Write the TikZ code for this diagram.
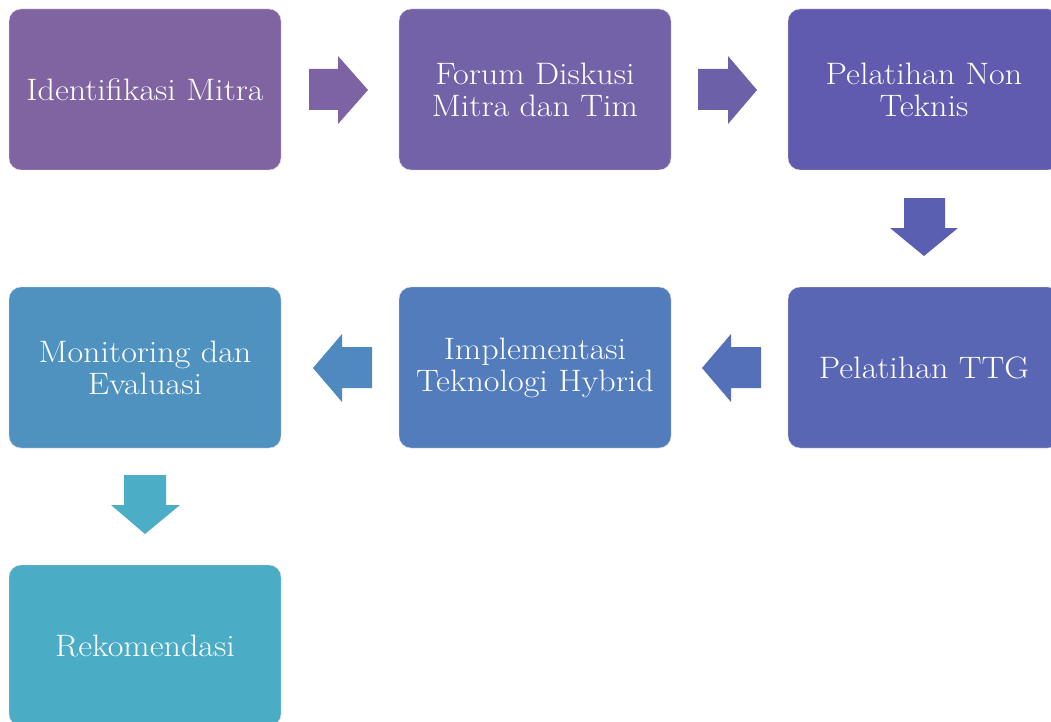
\documentclass[tikz,border=0pt]{standalone}
\usepackage{fontspec}
\setmainfont{Latin Modern Roman}[FakeStretch=1.1]
\usetikzlibrary{calc}
\definecolor{cA}{HTML}{8064A2}
\definecolor{cB}{HTML}{7462A8}
\definecolor{cC}{HTML}{605BAE}
\definecolor{cD}{HTML}{5966B3}
\definecolor{cE}{HTML}{527CBC}
\definecolor{cF}{HTML}{4F92C0}
\definecolor{cG}{HTML}{4BACC6}
\definecolor{aA}{HTML}{7D63A4}
\definecolor{aB}{HTML}{6C60A9}
\definecolor{aC}{HTML}{5A5FB1}
\definecolor{aD}{HTML}{5470B8}
\definecolor{aE}{HTML}{5088C0}
\definecolor{aF}{HTML}{4BADC6}
\tikzset{
  stepbox/.style={rectangle, rounded corners=12pt, minimum width=272pt, minimum height=161pt,
    text width=262pt, align=center, text=white, draw=white!85!black, line width=0.4pt,
    font=\fontsize{31}{32}\selectfont},
  blockarrow/.style={draw=none}
}
\begin{document}
\begin{tikzpicture}[x=1pt,y=-1pt]
\useasboundingbox (0,0) rectangle (1051,722);
\clip (0,0) rectangle (1051,722);
\node[stepbox, fill=cA] (b1) at (145,89.5) {Identifikasi Mitra};
\node[stepbox, fill=cB] (b2) at (535,89.5) {Forum Diskusi\\Mitra dan Tim};
\node[stepbox, fill=cC] (b3) at (924,89.5) {Pelatihan Non\\Teknis};
\node[stepbox, fill=cD] (b4) at (924,367.5) {Pelatihan TTG};
\node[stepbox, fill=cE] (b5) at (535,367.5) {Implementasi\\Teknologi Hybrid};
\node[stepbox, fill=cF] (b6) at (145,367.5) {Monitoring dan\\Evaluasi};
\node[stepbox, fill=cG] (b7) at (145,645.5) {Rekomendasi};
% right arrows
\fill[aA] (309,69) -- (338,69) -- (338,56) -- (368,90) -- (338,124) -- (338,110) -- (309,110) -- cycle;
\fill[aB] (698,69) -- (728,69) -- (728,56) -- (757,90) -- (728,124) -- (728,110) -- (698,110) -- cycle;
% down arrow
\fill[aC] (904,198) -- (945,198) -- (945,228) -- (958,228) -- (924,256) -- (890,228) -- (904,228) -- cycle;
% left arrows
\fill[aD] (761,347) -- (731,347) -- (731,334) -- (702,368) -- (731,402) -- (731,388) -- (761,388) -- cycle;
\fill[aE] (372,347) -- (342,347) -- (342,334) -- (313,368) -- (342,402) -- (342,388) -- (372,388) -- cycle;
% down arrow
\fill[aF] (124,475) -- (166,475) -- (166,505) -- (180,505) -- (145,534) -- (111,505) -- (124,505) -- cycle;
\end{tikzpicture}
\end{document}
